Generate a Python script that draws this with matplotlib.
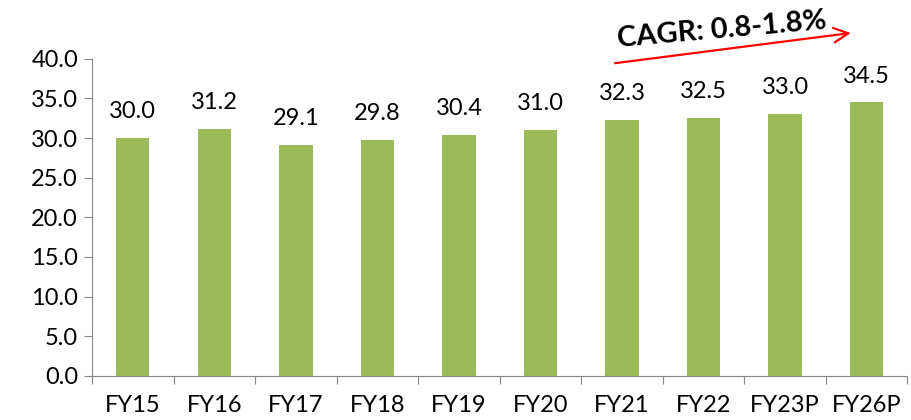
import matplotlib.pyplot as plt
import numpy as np

years = ['FY15', 'FY16', 'FY17', 'FY18', 'FY19', 'FY20', 'FY21', 'FY22', 'FY23P', 'FY26P']
values = [30.0, 31.2, 29.1, 29.8, 30.4, 31.0, 32.3, 32.5, 33.0, 34.5]
cagr_text = 'CAGR: 0.8-1.8%'

plt.rcParams['font.family'] = ['Lato', 'DejaVu Sans']

fig, ax = plt.subplots(figsize=(9.11, 4.2), dpi=100)
fig.subplots_adjust(left=0.101, right=0.996, top=0.86, bottom=0.105)

x = np.arange(len(years))
ax.bar(x, values, width=0.41, color='#9bbb59')
for xi, v in zip(x, values):
    ax.text(xi, v + 2.0, '%.1f' % v, ha='center', va='bottom', fontsize=17)

ax.set_xlim(-0.5, len(years) - 0.5)
ax.set_ylim(0, 40)
ax.set_yticks(np.arange(0, 41, 5))
ax.set_yticklabels(['%.1f' % t for t in np.arange(0, 41, 5)], fontsize=17)

# ticks sit between categories, labels centred under bars
ax.set_xticks(np.arange(-0.5, len(years), 1))
ax.set_xticklabels([])
ax.set_xticks(x, minor=True)
ax.set_xticklabels(years, minor=True, fontsize=17)
ax.tick_params(axis='x', which='major', length=6, color='#868686', direction='out')
ax.tick_params(axis='x', which='minor', length=0, pad=14)
ax.tick_params(axis='y', length=6, color='#868686', direction='out', pad=4)

for s in ['top', 'right']:
    ax.spines[s].set_visible(False)
for s in ['left', 'bottom']:
    ax.spines[s].set_color('#868686')

ax.annotate('', xy=(8.84, 43.3), xytext=(5.88, 39.4),
            arrowprops=dict(arrowstyle='->', color='red', lw=1.6, mutation_scale=26),
            annotation_clip=False)
ax.text(7.22, 43.7, cagr_text, ha='center', va='center', rotation=5,
        fontsize=21, fontweight='bold')

plt.savefig('out.png', dpi=100)
